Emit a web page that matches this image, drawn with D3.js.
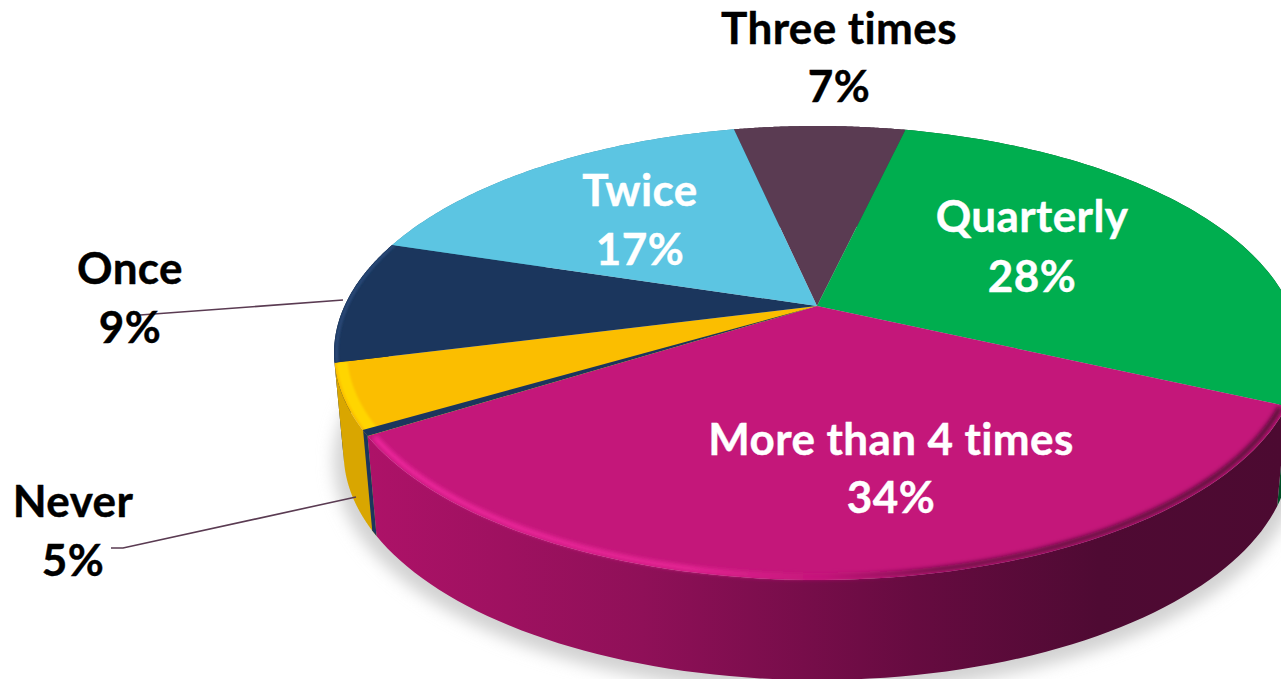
<!DOCTYPE html>
<html><head><meta charset="utf-8">
<script src="https://cdn.jsdelivr.net/npm/d3@7"></script>
<style>html,body{margin:0;padding:0;background:#fff;overflow:hidden}svg{display:block}text{font-family:Lato,"Open Sans",sans-serif;font-weight:700;font-variant-ligatures:none;letter-spacing:.4px}</style>
</head><body><svg id="c" width="1281" height="679"></svg>
<script>
const categories=["Three times","Quarterly","More than 4 times","Never","Once","Twice"];
const values=[7,28.3,34.15,4.95,8.8,16.8];
const topColors=["#5a3b52","#00ae4f","#c4177a","#fbbe00","#1b365d","#5cc5e2"];
const sideColors=["#3f2a3a","#004f26","url(#magSide)","#d9a600","#14294a","#3f8ba0"];
const labelColors=["#000","#fff","#fff","#000","#000","#fff"];
const labelAnchors=[[839,44,102],[1032,232,292],[891,455,513],[73,517,576],[130,284,343],[640,206,265]];

const W=1281,H=679,cx=817,cy=306,K=0.207,A=217.3,B=472.5,DEPTH=100,BX=0.98;
const svg=d3.select("#c");
const toRad=d=>d*Math.PI/180;
const slices=d3.pie().sort(null).startAngle(toRad(-12.2)).endAngle(toRad(347.8)).value(d=>d)(values);

function proj(angle,r=1,bottom=false){
  const u=r*Math.sin(angle),v=r*Math.cos(angle),d=1+K*v;
  const x=B*u/d,y=-A*v/d;
  return bottom?[cx+BX*x,cy+DEPTH+y]:[cx+x,cy+y];
}
const line=d3.line();
const arcPts=(a0,a1,r=1,bottom=false)=>d3.range(0,81).map(i=>proj(a0+(a1-a0)*i/80,r,bottom));

const defs=svg.append("defs");
const f=(id,s)=>defs.append("filter").attr("id",id).attr("x","-20%").attr("y","-20%").attr("width","140%").attr("height","140%")
  .append("feGaussianBlur").attr("stdDeviation",s);
f("shadow",8);f("b2",2);f("b1",1.2);
const grad=(id,stops,x1,x2)=>{const g=defs.append("linearGradient").attr("id",id).attr("gradientUnits","userSpaceOnUse")
  .attr("x1",x1).attr("x2",x2).attr("y1",0).attr("y2",0);
  stops.forEach(s=>g.append("stop").attr("offset",s[0]).attr("stop-color",s[1]));};
grad("magSide",[[0,"#ad1268"],[0.3,"#8f1058"],[0.6,"#660b40"],[0.8,"#4f0a33"],[1,"#4c0a31"]],370,1281);
grad("magRim",[[0,"#f0289f"],[0.35,"#ea2698"],[0.5,"#c4177a"],[0.62,"#6d0c45"],[1,"#4f0a33"]],370,1281);

// soft shadow under the body
const full=d3.range(0,361).map(d=>proj(toRad(d),1.02,true));
svg.append("path").attr("d",line(full)+"Z").attr("transform","translate(0,6)").attr("fill","#d2d2d2").attr("filter","url(#shadow)");

// sides
const sideOrder=[5,0,4,1,3,2];
sideOrder.forEach(i=>{
  const s=slices[i];
  const pts=arcPts(s.startAngle,s.endAngle).concat(arcPts(s.startAngle,s.endAngle,1,true).reverse());
  svg.append("path").attr("d",line(pts)+"Z").attr("fill",sideColors[i]);
});

// top surfaces
slices.forEach((s,i)=>{
  const pts=[[cx,cy]].concat(arcPts(s.startAngle,s.endAngle));
  const d=line(pts)+"Z";
  defs.append("clipPath").attr("id","clip"+i).append("path").attr("d",d);
  svg.append("path").attr("d",d).attr("fill",topColors[i]);
});

// bevels
const gold=slices[3],mag=slices[2],navy=slices[4];
svg.append("g").attr("clip-path","url(#clip3)").append("path")
  .attr("d",line(arcPts(gold.startAngle,gold.endAngle,0.985))).attr("fill","none")
  .attr("stroke","#ffd500").attr("stroke-width",11).attr("filter","url(#b1)");
svg.append("path").attr("d",line(arcPts(mag.startAngle+0.012,mag.endAngle-0.01,0.99).reverse()))
  .attr("fill","none").attr("stroke","url(#magRim)").attr("stroke-width",5).attr("filter","url(#b2)");
svg.append("g").attr("clip-path","url(#clip4)").append("path")
  .attr("d",line(arcPts(navy.startAngle,navy.endAngle,0.995))).attr("fill","none")
  .attr("stroke","#2a4a78").attr("stroke-width",3).attr("filter","url(#b1)");

// dark seam between the gold and magenta slices
const seam=mag.endAngle,seamW=toRad(1.5);
svg.append("path").attr("d",line([[cx,cy],proj(seam+seamW),proj(seam)])+"Z").attr("fill","#1b365d");
svg.append("path").attr("d",line([proj(seam+seamW*0.9),proj(seam+seamW*0.9,1,true),proj(seam,1,true),proj(seam)])+"Z").attr("fill","#1b365d");

// leader lines
const leaders=[[[343,300],[140,315]],[[356,497],[123,548],[111,548]]];
leaders.forEach(l=>svg.append("path").attr("d",line(l)).attr("fill","none").attr("stroke","#5a3b52").attr("stroke-width",1.6));

// labels
const fmt=d3.format(".0f");
categories.forEach((c,i)=>{
  const a=labelAnchors[i];
  const t=svg.append("text").attr("text-anchor","middle").attr("fill",labelColors[i]).attr("font-size",44)
    .attr("stroke",labelColors[i]).attr("stroke-width",0.4);
  t.append("tspan").attr("x",a[0]).attr("y",a[1]).text(c);
  t.append("tspan").attr("x",a[0]).attr("y",a[2]).text(fmt(values[i])+"%");
});
</script></body></html>
